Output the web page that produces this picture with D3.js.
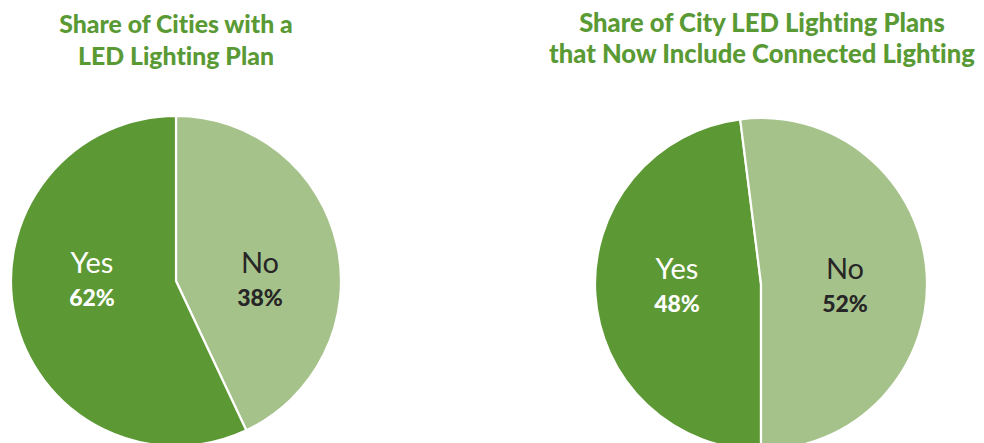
<!DOCTYPE html>
<html>
<head>
<meta charset="utf-8">
<script src="https://cdn.jsdelivr.net/npm/d3@7/dist/d3.min.js"></script>
<style>
  html, body { margin: 0; padding: 0; background: #ffffff; overflow: hidden; }
  svg { display: block; }
  text { font-variant-ligatures: none; }
</style>
</head>
<body>
<svg id="chart" width="984" height="443"></svg>
<script>
// ---- data ----
const categories = ["No", "Yes"];
const chart1Title = ["Share of Cities with a", "LED Lighting Plan"];
const chart1Shares = [43, 57];          // slice sizes as drawn
const chart1Labels = ["38%", "62%"];    // printed labels
const chart2Title = ["Share of City LED Lighting Plans", "that Now Include Connected Lighting"];
const chart2Categories = ["Yes", "No"];
const chart2Shares = [48, 52];
const chart2Labels = ["48%", "52%"];

const colors = { Yes: "#5c9833", No: "#a6c28b" };
const titleColor = "#5a9a35";

const svg = d3.select("#chart");

function drawPie(cfg) {
  const g = svg.append("g").attr("transform", `translate(${cfg.cx},${cfg.cy})`);
  const pie = d3.pie().sort(null).value(d => d.v)
    .startAngle(cfg.start).endAngle(cfg.start + 2 * Math.PI);
  const data = cfg.cats.map((c, i) => ({ c, v: cfg.shares[i], label: cfg.labels[i] }));
  const arc = d3.arc().innerRadius(0).outerRadius(cfg.r);
  g.selectAll("path").data(pie(data)).join("path")
    .attr("d", arc)
    .attr("fill", d => colors[d.data.c])
    .attr("stroke", "#ffffff")
    .attr("stroke-width", 2.2)
    .attr("stroke-linejoin", "round");

  data.forEach(d => {
    const pos = cfg.labelPos[d.c];
    const dark = d.c === "Yes";
    g.append("text")
      .attr("x", pos[0]).attr("y", pos[1])
      .attr("text-anchor", "middle")
      .attr("font-family", "Lato, 'Open Sans', sans-serif")
      .attr("font-weight", 400)
      .attr("font-size", 29)
      .attr("fill", dark ? "#ffffff" : "#262626")
      .text(d.c);
    g.append("text")
      .attr("x", pos[0]).attr("y", pos[1] + 33)
      .attr("text-anchor", "middle")
      .attr("font-family", "Lato, 'Open Sans', sans-serif")
      .attr("font-weight", 900)
      .attr("font-size", 23)
      .attr("fill", dark ? "#ffffff" : "#262626")
      .text(d.label);
  });

  const t = svg.append("text")
    .attr("text-anchor", "middle")
    .attr("font-family", "Lato, 'Open Sans', sans-serif")
    .attr("font-weight", 900)
    .attr("font-size", cfg.titleSize)
    .attr("fill", titleColor);
  cfg.title.forEach((line, i) => {
    t.append("tspan").attr("x", cfg.tx).attr("y", cfg.ty + i * 31.5).text(line);
  });
}

drawPie({
  cx: 176, cy: 281, r: 165, start: 0,
  cats: categories, shares: chart1Shares, labels: chart1Labels,
  labelPos: { Yes: [-84, -8], No: [84, -8] },
  title: chart1Title, tx: 176, ty: 33, titleSize: 24.8
});

drawPie({
  cx: 761, cy: 284, r: 166, start: Math.PI,
  cats: chart2Categories, shares: chart2Shares, labels: chart2Labels,
  labelPos: { Yes: [-84, -5], No: [84, -5] },
  title: chart2Title, tx: 762, ty: 31.5, titleSize: 25.6
});
</script>
</body>
</html>
